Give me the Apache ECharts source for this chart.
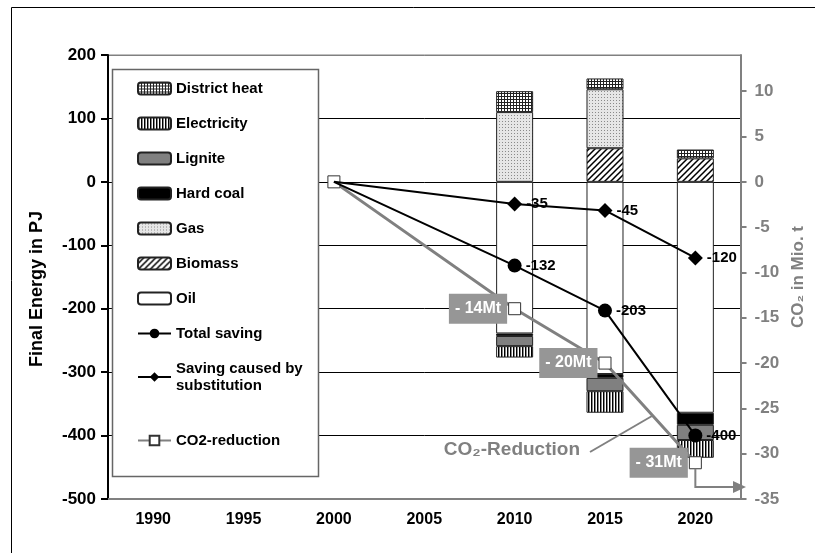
<!DOCTYPE html>
<html>
<head>
<meta charset="utf-8">
<script src="https://cdn.jsdelivr.net/npm/echarts@6/dist/echarts.min.js"></script>
<style>
  html, body { margin: 0; padding: 0; background: #fff; }
  #main { width: 815px; height: 553px; }
</style>
</head>
<body>
<div id="main"></div>
<script>
// years on the x axis
const years = ['1990', '1995', '2000', '2005', '2010', '2015', '2020'];

// stacked bars, final energy in PJ
const oil = [null, null, null, null, -239, -303, -364];
const biomass = [null, null, null, null, null, 53, 37];
const gas = [null, null, null, null, 110, 93, null];
const hardCoal = [null, null, null, null, -4, -6, -19];
const lignite = [null, null, null, null, -16, -21, -24];
const electricity = [null, null, null, null, -18, -34, -28];
const districtHeat = [null, null, null, null, 33, 17, 14];

// lines
const totalSaving = [null, null, 0, null, -132, -203, -400];
const substitution = [null, null, 0, null, -35, -45, -120];
const co2Reduction = [null, null, 0, null, -14, -20, -31]; // Mio. t

// right axis ticks
const co2Ticks = [-35, -30, -25, -20, -15, -10, -5, 0, 5, 10];

const FONT = '"Liberation Sans", Arial, sans-serif';
const GREY = '#808080';

// hatch patterns for the bars
function pattern(w, h, draw) {
  const c = document.createElement('canvas');
  c.width = w;
  c.height = h;
  const g = c.getContext('2d');
  g.fillStyle = '#fff';
  g.fillRect(0, 0, w, h);
  draw(g);
  return { image: c, repeat: 'repeat' };
}

const patDistrict = pattern(3, 3, g => {
  g.fillStyle = '#222';
  g.fillRect(0, 0, 3, 1);
  g.fillRect(0, 0, 1, 3);
});
const patElectricity = pattern(3, 1, g => {
  g.fillStyle = '#000';
  g.fillRect(0, 0, 1, 1);
  g.fillStyle = '#888';
  g.fillRect(1, 0, 1, 1);
});
const patGas = pattern(3, 3, g => {
  g.fillStyle = '#e6e6e6';
  g.fillRect(0, 0, 3, 3);
  g.fillStyle = '#8a8a8a';
  g.fillRect(1, 1, 1, 1);
});
const patBiomass = pattern(6, 6, g => {
  g.strokeStyle = '#000';
  g.lineWidth = 1.5;
  g.beginPath();
  g.moveTo(-1, 7); g.lineTo(7, -1);
  g.moveTo(-4, 4); g.lineTo(4, -4);
  g.moveTo(2, 10); g.lineTo(10, 2);
  g.stroke();
});

function barSeries(name, data, color) {
  return {
    name: name,
    type: 'bar',
    stack: 'energy',
    barWidth: 37,
    data: data,
    itemStyle: { color: color, borderColor: '#222', borderWidth: 1 }
  };
}

// hide marker/label on the 2000 start point
function startPoint(arr, keepSymbol) {
  return arr.map((v, i) => {
    if (v === 0 && i === 2) {
      return keepSymbol ? { value: v, label: { show: false } }
                        : { value: v, symbol: 'none', label: { show: false } };
    }
    return v;
  });
}

const chart = echarts.init(document.getElementById('main'));

const legendText = { fontFamily: FONT, fontWeight: 'bold', fontSize: 15, color: '#000', lineHeight: 17 };

const option = {
  animation: false,
  backgroundColor: '#fff',
  textStyle: { fontFamily: FONT },
  grid: {
    left: 108, right: 69, top: 55, bottom: 54,
    show: true, borderColor: GREY, borderWidth: 1
  },
  legend: [{
    data: ['District heat', 'Electricity', 'Lignite', 'Hard coal', 'Gas', 'Biomass', 'Oil',
      'Total saving', 'Saving caused by\nsubstitution'],
    orient: 'vertical',
    left: 137, top: 80,
    padding: 0,
    itemWidth: 33, itemHeight: 12, itemGap: 18,
    selectedMode: false,
    textStyle: legendText
  }, {
    data: ['CO2-reduction'],
    orient: 'vertical',
    left: 137, top: 432,
    padding: 0,
    itemWidth: 33, itemHeight: 12,
    selectedMode: false,
    textStyle: legendText
  }],
  xAxis: {
    type: 'category',
    data: years,
    boundaryGap: true,
    axisLine: { onZero: false, lineStyle: { color: GREY, width: 2 } },
    axisTick: { show: false },
    axisLabel: { color: '#000', fontWeight: 'bold', fontSize: 16, margin: 13, fontFamily: FONT },
    splitLine: { show: false }
  },
  yAxis: [{
    type: 'value',
    min: -500, max: 200, interval: 100,
    name: 'Final Energy in PJ',
    nameLocation: 'middle',
    nameGap: 62,
    nameTextStyle: { color: '#000', fontWeight: 'bold', fontSize: 18, fontFamily: FONT, padding: [0, 24, 0, 0] },
    axisLine: { show: true, lineStyle: { color: '#000', width: 2 } },
    axisTick: { show: true, length: 7, lineStyle: { color: '#000', width: 2 } },
    axisLabel: { color: '#000', fontWeight: 'bold', fontSize: 17, margin: 12, fontFamily: FONT },
    splitLine: {
      show: true,
      lineStyle: { color: [GREY, '#000', '#000', '#000', '#000', '#000', '#000', GREY], width: 1 }
    }
  }, {
    type: 'value',
    position: 'right',
    min: -35, max: 14,
    name: 'CO\u2082 in Mio. t',
    nameLocation: 'middle',
    nameGap: 48,
    nameTextStyle: { color: GREY, fontWeight: 'bold', fontSize: 17, fontFamily: FONT },
    axisLine: { show: true, lineStyle: { color: GREY, width: 2 } },
    axisTick: { show: true, length: 6, customValues: co2Ticks, lineStyle: { color: GREY, width: 2 } },
    axisLabel: { color: GREY, fontWeight: 'bold', fontSize: 17, margin: 14, customValues: co2Ticks, fontFamily: FONT },
    splitLine: { show: false }
  }],
  series: [
    barSeries('Oil', oil, '#fff'),
    barSeries('Biomass', biomass, patBiomass),
    barSeries('Gas', gas, patGas),
    barSeries('Hard coal', hardCoal, '#000'),
    barSeries('Lignite', lignite, GREY),
    barSeries('Electricity', electricity, patElectricity),
    barSeries('District heat', districtHeat, patDistrict),
    {
      name: 'CO2-reduction',
      type: 'line',
      yAxisIndex: 1,
      connectNulls: true,
      data: startPoint(co2Reduction, true),
      symbol: 'rect',
      symbolSize: 12,
      z: 4,
      lineStyle: { color: GREY, width: 3 },
      itemStyle: { color: '#fff', borderColor: '#333', borderWidth: 1 },
      label: {
        show: true,
        position: 'left',
        distance: 1,
        formatter: p => '- ' + Math.abs(p.value) + 'Mt',
        backgroundColor: '#969696',
        color: '#fff',
        fontWeight: 'bold',
        fontSize: 16,
        lineHeight: 18,
        padding: [6, 6, 6, 6],
        fontFamily: FONT
      }
    },
    {
      name: 'Total saving',
      type: 'line',
      connectNulls: true,
      data: startPoint(totalSaving, false),
      symbol: 'circle',
      symbolSize: 14,
      z: 5,
      lineStyle: { color: '#000', width: 2 },
      itemStyle: { color: '#000' },
      label: { show: true, position: 'right', distance: 4, color: '#000', fontWeight: 'bold', fontSize: 15, fontFamily: FONT }
    },
    {
      name: 'Saving caused by\nsubstitution',
      type: 'line',
      connectNulls: true,
      data: startPoint(substitution, false),
      symbol: 'diamond',
      symbolSize: 15,
      z: 5,
      lineStyle: { color: '#000', width: 2 },
      itemStyle: { color: '#000' },
      label: { show: true, position: 'right', distance: 4, color: '#000', fontWeight: 'bold', fontSize: 15, fontFamily: FONT }
    }
  ]
};

chart.setOption(option);

// annotations: frame, legend box, CO2 caption and arrow to the right axis
const last = co2Reduction.length - 1;
const p = chart.convertToPixel({ xAxisIndex: 0, yAxisIndex: 1 }, [years[last], co2Reduction[last]]);
const axisRight = 815 - 69;
const arrowY = 487;

chart.setOption({
  graphic: {
    elements: [
      {
        type: 'rect', z: 0, silent: true,
        shape: { x: 11.5, y: 7.5, width: 830, height: 570 },
        style: { fill: null, stroke: '#000', lineWidth: 1 }
      },
      {
        type: 'rect', z: 3, silent: true,
        shape: { x: 112.5, y: 69.5, width: 206, height: 407 },
        style: { fill: '#fff', stroke: '#666', lineWidth: 1.5 }
      },
      {
        type: 'text', z: 6, silent: true,
        x: 580, y: 450,
        style: {
          text: 'CO\u2082-Reduction', fill: GREY, font: 'bold 19px ' + FONT,
          align: 'right', verticalAlign: 'middle'
        }
      },
      {
        type: 'line', z: 6, silent: true,
        shape: { x1: 590, y1: 452, x2: 652, y2: 416 },
        style: { stroke: GREY, lineWidth: 2 }
      },
      {
        type: 'polyline', z: 6, silent: true,
        shape: { points: [[p[0], p[1] + 6], [p[0], arrowY], [axisRight - 10, arrowY]] },
        style: { stroke: GREY, lineWidth: 2, fill: null }
      },
      {
        type: 'polygon', z: 6, silent: true,
        shape: { points: [[axisRight - 13, arrowY - 6], [axisRight, arrowY], [axisRight - 13, arrowY + 6]] },
        style: { fill: GREY }
      }
    ]
  }
});
</script>
</body>
</html>
